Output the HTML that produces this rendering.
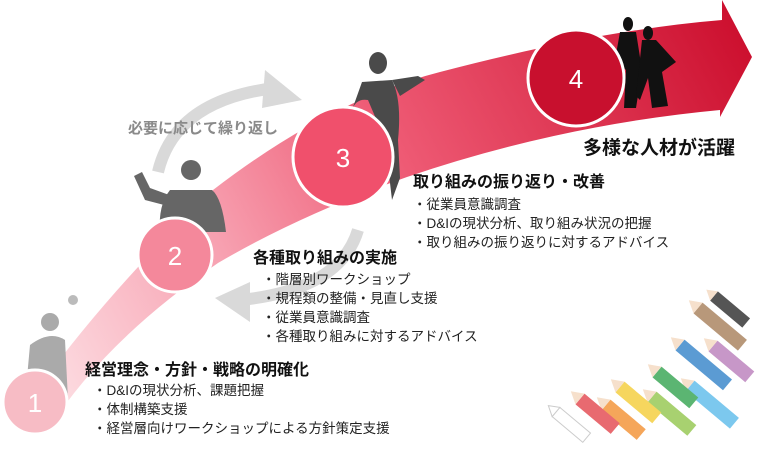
<!DOCTYPE html>
<html><head><meta charset="utf-8"><style>
html,body{margin:0;padding:0;background:#fff;}
svg{display:block}
text{font-family:"Liberation Sans","Noto Sans CJK JP",sans-serif;}
.h{font-weight:bold;font-size:16px;fill:#111}
.b{font-size:13.5px;fill:#222}
</style></head><body>
<svg width="768" height="451" viewBox="0 0 768 451" xmlns="http://www.w3.org/2000/svg">
<defs>
<linearGradient id="g" x1="40" y1="420" x2="750" y2="40" gradientUnits="userSpaceOnUse">
<stop offset="0" stop-color="#fde3e7"/>
<stop offset="0.3" stop-color="#f7a0b0"/>
<stop offset="0.55" stop-color="#ee5a74"/>
<stop offset="1" stop-color="#cc0f2e"/>
</linearGradient>
</defs>
<path d="M158 172 Q175 100 275 88" fill="none" stroke="#d9d9d9" stroke-width="12"/>
<polygon points="265,70 302,100 262,108" fill="#d9d9d9"/>
<path d="M358 230 Q340 290 240 300" fill="none" stroke="#d9d9d9" stroke-width="12"/>
<polygon points="250,282 215,298 250,322" fill="#d9d9d9"/>
<path d="M30 400 Q100 300 213 190 Q330 100 440 72 Q600 30 722 20 L722 0 L752 57 L720 117 L720 110 Q560 125 407 177 Q300 215 218 263 Q120 330 65 405 Z" fill="url(#g)"/>
<g fill="#aaa">
<circle cx="50" cy="322" r="9"/>
<path d="M30 345 Q50 330 65 340 L68 400 L25 400 Z"/>
<circle cx="73" cy="300" r="5" fill="#bbb"/>
</g>
<g fill="#666">
<circle cx="191" cy="170" r="10"/>
<path d="M170 190 L212 190 Q222 198 226 232 L160 232 Q158 205 170 190 Z"/>
<path d="M134 176 L142 172 L150 188 L172 196 L168 206 L145 200 Z"/>
</g>
<g fill="#4a4a4a">
<ellipse cx="378" cy="63" rx="9" ry="11"/>
<path d="M362 82 L392 80 Q402 100 398 140 L400 178 L392 200 L385 140 L368 100 Q356 98 352 110 Z"/>
<path d="M392 80 L418 76 L425 80 L400 96 Z"/>
</g>
<g fill="#111">
<ellipse cx="628" cy="24" rx="5" ry="7"/>
<path d="M620 32 L636 32 L642 70 L636 108 L624 108 L626 70 L615 60 Z"/>
<ellipse cx="648" cy="33" rx="5" ry="7"/>
<path d="M642 40 L656 40 L676 62 L662 72 L668 106 L652 108 L648 78 L640 100 L636 96 Z"/>
</g>
<circle cx="35" cy="402" r="32" fill="#f7bcc5" stroke="#fff" stroke-width="3"/>
<circle cx="175" cy="255" r="37" fill="#f4889b" stroke="#fff" stroke-width="3"/>
<circle cx="343" cy="157" r="50" fill="#f0506c" stroke="#fff" stroke-width="3"/>
<circle cx="576" cy="78" r="48" fill="#c8102e" stroke="#fff" stroke-width="3"/>
<g fill="#fff" font-size="26" text-anchor="middle">
<text x="35" y="412">1</text><text x="175" y="265">2</text>
<text x="343" y="167">3</text><text x="576" y="88">4</text>
</g>
<text x="128" y="133" font-weight="bold" font-size="15" fill="#8a8a8a">必要に応じて繰り返し</text>
<text x="583" y="154" font-weight="bold" font-size="19" fill="#111">多様な人材が活躍</text>
<text x="413" y="187" class="h">取り組みの振り返り・改善</text>
<text x="413" y="209" class="b">・従業員意識調査</text>
<text x="413" y="228" class="b">・D&amp;Iの現状分析、取り組み状況の把握</text>
<text x="413" y="247" class="b">・取り組みの振り返りに対するアドバイス</text>
<text x="253" y="263" class="h">各種取り組みの実施</text>
<text x="262" y="284" class="b">・階層別ワークショップ</text>
<text x="262" y="303" class="b">・規程類の整備・見直し支援</text>
<text x="262" y="322" class="b">・従業員意識調査</text>
<text x="262" y="341" class="b">・各種取り組みに対するアドバイス</text>
<text x="85" y="375" class="h">経営理念・方針・戦略の明確化</text>
<text x="93" y="395" class="b">・D&amp;Iの現状分析、課題把握</text>
<text x="93" y="414" class="b">・体制構築支援</text>
<text x="93" y="433" class="b">・経営層向けワークショップによる方針策定支援</text>
<g>
<g transform="translate(714,296) rotate(40)"><rect x="0" y="-6" width="42" height="12" fill="#555"/><polygon points="0,-6 -10,0 0,6" fill="#f6e0cc"/></g>
<g transform="translate(698,308) rotate(40)"><rect x="0" y="-7" width="58" height="14" fill="#b8987a"/><polygon points="0,-7 -12,0 0,7" fill="#f6e0cc"/></g>
<g transform="translate(713,346) rotate(40)"><rect x="0" y="-7" width="48" height="14" fill="#c797c8"/><polygon points="0,-7 -12,0 0,7" fill="#f6e0cc"/></g>
<g transform="translate(680,345) rotate(40)"><rect x="0" y="-7" width="62" height="14" fill="#5b9bd3"/><polygon points="0,-7 -12,0 0,7" fill="#f6e0cc"/></g>
<g transform="translate(690,386) rotate(40)"><rect x="0" y="-7" width="58" height="14" fill="#7cc8ee"/><polygon points="0,-7 -12,0 0,7" fill="#f6e0cc"/></g>
<g transform="translate(657,372) rotate(40)"><rect x="0" y="-7" width="48" height="14" fill="#5bb572"/><polygon points="0,-7 -12,0 0,7" fill="#f6e0cc"/></g>
<g transform="translate(652,397) rotate(40)"><rect x="0" y="-7" width="52" height="14" fill="#a8d170"/><polygon points="0,-7 -12,0 0,7" fill="#f6e0cc"/></g>
<g transform="translate(620,387) rotate(40)"><rect x="0" y="-7" width="48" height="14" fill="#f6d65e"/><polygon points="0,-7 -12,0 0,7" fill="#f6e0cc"/></g>
<g transform="translate(606,405) rotate(40)"><rect x="0" y="-7" width="46" height="14" fill="#f5a65a"/><polygon points="0,-7 -12,0 0,7" fill="#f6e0cc"/></g>
<g transform="translate(580,399) rotate(40)"><rect x="0" y="-7" width="46" height="14" fill="#e86a70"/><polygon points="0,-7 -12,0 0,7" fill="#f6e0cc"/></g>
<g transform="translate(556,412) rotate(40)"><rect x="0" y="-6" width="40" height="12" fill="#fff" stroke="#ccc"/><polygon points="0,-6 -10,0 0,6" fill="#fff" stroke="#ccc"/></g>
</g>
</svg>
</body></html>
